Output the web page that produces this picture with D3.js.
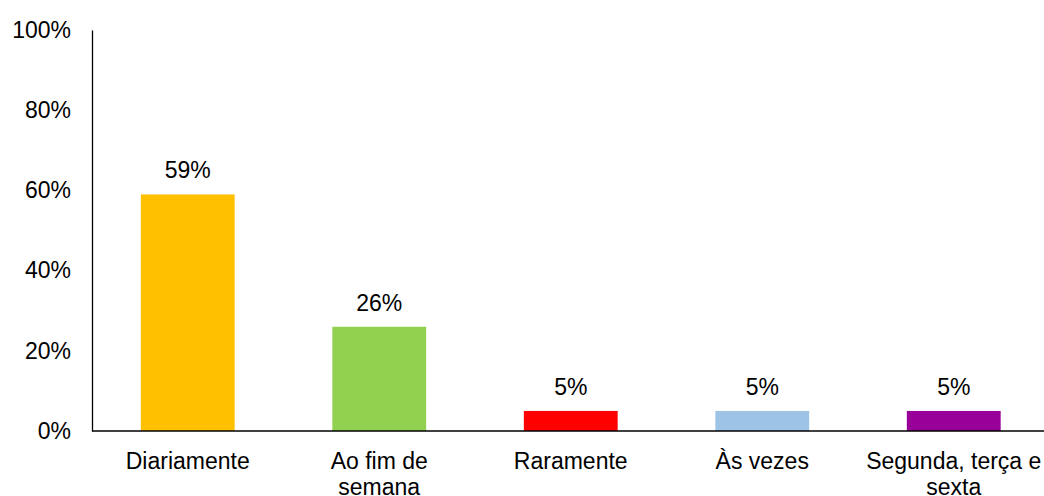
<!DOCTYPE html>
<html>
<head>
<meta charset="utf-8">
<script src="https://cdn.jsdelivr.net/npm/d3@7"></script>
<style>
  body { margin: 0; background: #fff; }
  svg { display: block; font-family: "Liberation Sans", Arial, sans-serif; }
  .tick text { font-size: 23px; fill: #000; }
</style>
</head>
<body>
<svg id="chart" width="1044" height="496"></svg>
<script>
const categories = ["Diariamente", "Ao fim de semana", "Raramente", "Às vezes", "Segunda, terça e sexta"];
const labelLines = [["Diariamente"], ["Ao fim de", "semana"], ["Raramente"], ["Às vezes"], ["Segunda, terça e", "sexta"]];
const values = [59, 26, 5, 5, 5];
const colors = ["#FFC000", "#92D050", "#FF0000", "#9DC3E6", "#990099"];
const yTicks = [0, 20, 40, 60, 80, 100];

const svg = d3.select('#chart');
const margin = { top: 30, left: 92, bottom: 65 };
const height = 496;

const xScale = d3.scaleBand()
    .domain(categories)
    .range([margin.left, margin.left + 5 * 191.5])
    .paddingInner(0.51)
    .paddingOuter(0.255);
const yScale = d3.scaleLinear()
    .domain([0, 100])
    .range([height - margin.bottom, margin.top]);

// bars
svg.selectAll('rect.bar')
    .data(values)
    .enter()
    .append('rect')
    .attr('class', 'bar')
    .attr('x', (d, i) => xScale(categories[i]))
    .attr('width', xScale.bandwidth())
    .attr('y', d => yScale(d))
    .attr('height', d => yScale(0) - yScale(d))
    .attr('fill', (d, i) => colors[i]);

// value labels
svg.selectAll('text.val')
    .data(values)
    .enter()
    .append('text')
    .attr('class', 'val')
    .attr('x', (d, i) => xScale(categories[i]) + xScale.bandwidth() / 2)
    .attr('y', d => yScale(d) - 16)
    .attr('text-anchor', 'middle')
    .style('font-size', '23px')
    .text(d => d + '%');

// y axis
const yAxis = d3.axisLeft(yScale)
    .tickValues(yTicks)
    .tickFormat(d => d + '%')
    .tickSize(0)
    .tickPadding(21);
const gY = svg.append('g')
    .attr('transform', `translate(${margin.left},0)`)
    .call(yAxis);
gY.select('.domain').attr('stroke', '#000').attr('stroke-width', 1.3);

// x axis
const xAxis = d3.axisBottom(xScale).tickSize(0).tickFormat('');
const gX = svg.append('g')
    .attr('transform', `translate(0,${yScale(0)})`)
    .call(xAxis);
gX.select('.domain').attr('stroke', '#000').attr('stroke-width', 1.3)
    .attr('d', `M${margin.left},0H1044`);

// category labels
categories.forEach((c, i) => {
    const t = svg.append('text')
        .attr('x', xScale(c) + xScale.bandwidth() / 2)
        .attr('y', yScale(0) + 37.5)
        .attr('text-anchor', 'middle')
        .style('font-size', '23px');
    labelLines[i].forEach((line, j) => {
        t.append('tspan')
            .attr('x', xScale(c) + xScale.bandwidth() / 2)
            .attr('dy', j === 0 ? 0 : 26)
            .text(line);
    });
});
</script>
</body>
</html>
